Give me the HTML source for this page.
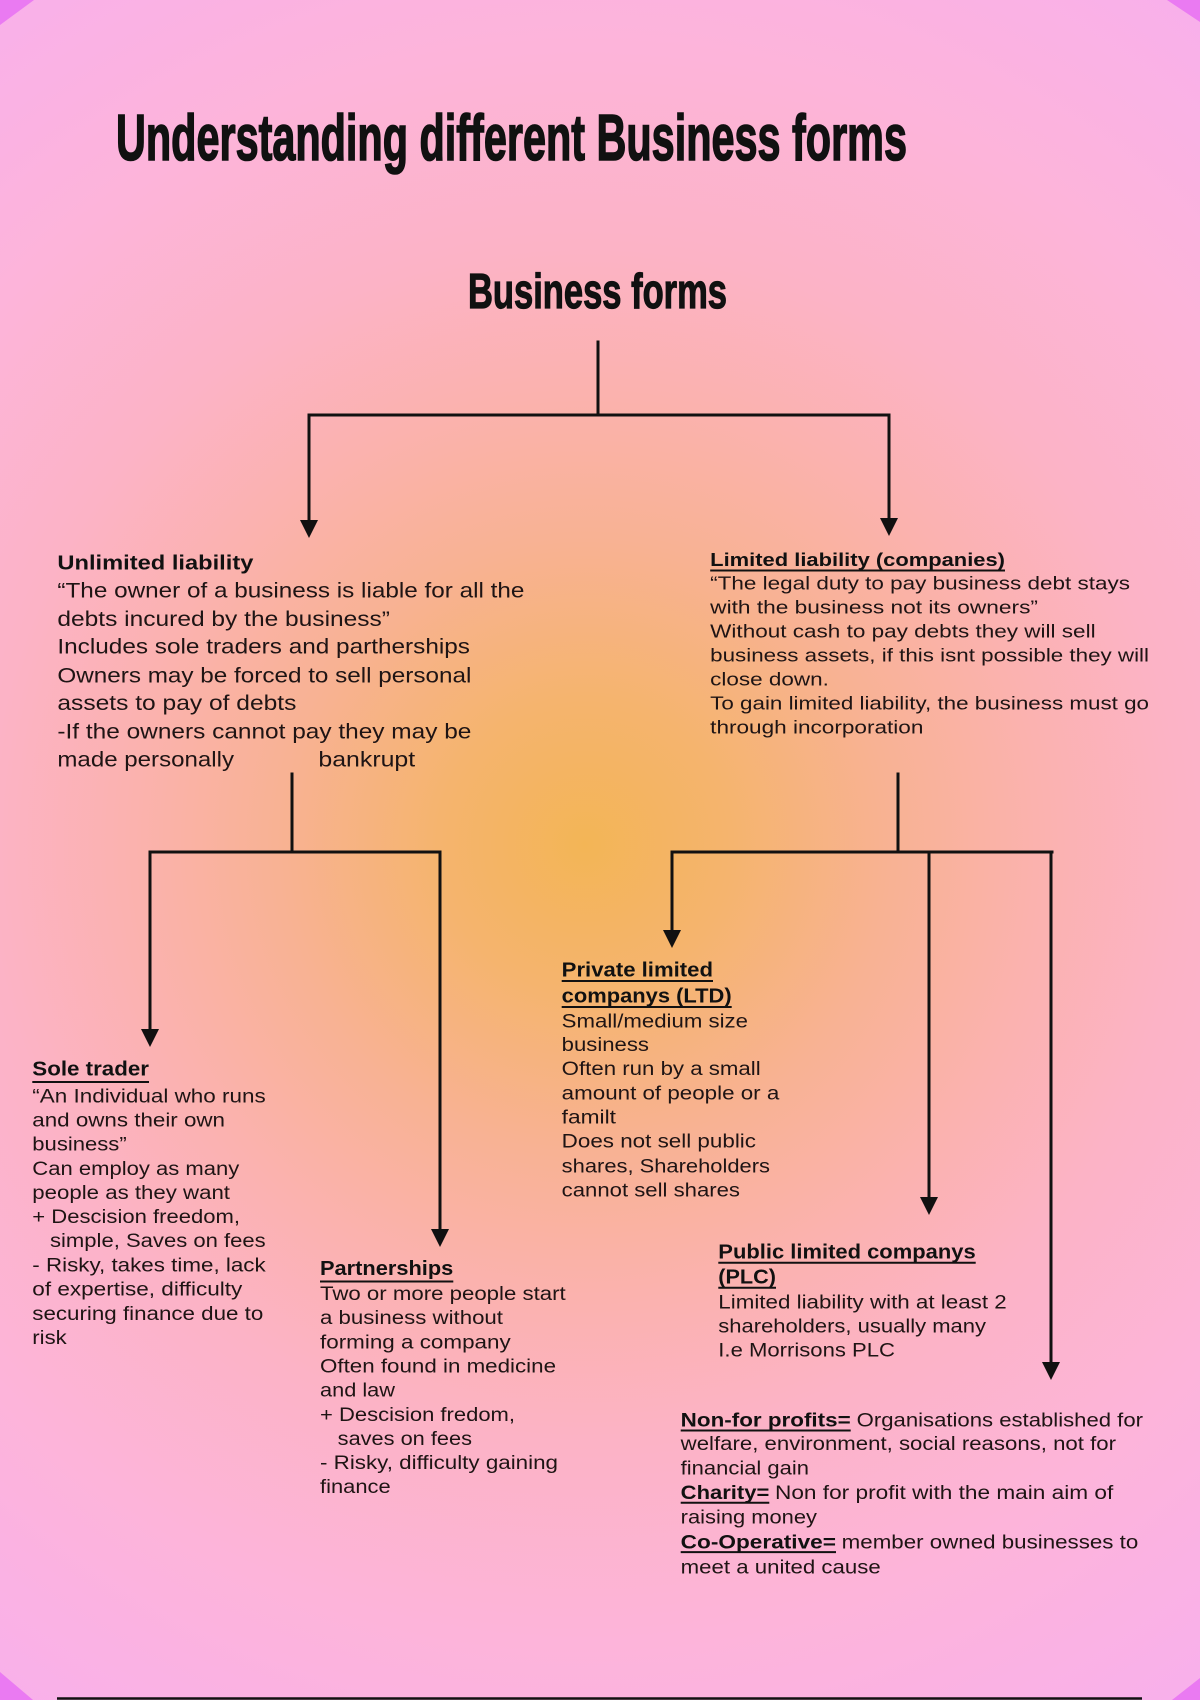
<!DOCTYPE html>
<html>
<head>
<meta charset="utf-8">
<style>
html,body{margin:0;padding:0;}
body{width:1200px;height:1700px;overflow:hidden;}
svg{display:block;}
text{font-family:"Liberation Sans",Arial,sans-serif;fill:#1e1414;}
.b{font-weight:bold;fill:#111;}
.t{font-size:19px;}
.u{font-size:21px;}
.l{font-size:18px;}
</style>
</head>
<body>
<svg width="1200" height="1700" viewBox="0 0 1200 1700" xmlns="http://www.w3.org/2000/svg">
<defs>
<radialGradient id="bg" cx="585" cy="845" r="1050" gradientUnits="userSpaceOnUse">
<stop offset="0" stop-color="#f3b556"/>
<stop offset="0.14" stop-color="#f5b46e"/>
<stop offset="0.29" stop-color="#f8b293"/>
<stop offset="0.43" stop-color="#fbb2ae"/>
<stop offset="0.57" stop-color="#fcb3c6"/>
<stop offset="0.76" stop-color="#fdb4da"/>
<stop offset="1" stop-color="#f8b0ec"/>
</radialGradient>
</defs>
<rect x="0" y="0" width="1200" height="1700" fill="url(#bg)"/>
<!-- purple corners -->
<polygon points="0,0 34,0 0,25" fill="#ea7af2"/>
<polygon points="1167,0 1200,0 1200,22" fill="#ea7af2"/>
<polygon points="0,1672 33,1700 0,1700" fill="#ea7af2"/>
<polygon points="1172,1700 1200,1678 1200,1700" fill="#ea7af2"/>

<!-- titles -->
<text class="b" x="116" y="160" font-size="65" textLength="791" lengthAdjust="spacingAndGlyphs" stroke="#111" stroke-width="1.6">Understanding different Business forms</text>
<text class="b" x="468" y="308" font-size="49" textLength="259" lengthAdjust="spacingAndGlyphs" stroke="#111" stroke-width="1.2">Business forms</text>

<!-- connectors -->
<g stroke="#111" stroke-width="3" fill="none" stroke-linecap="square">
<path d="M598,342 V415"/>
<path d="M309,415 H889"/>
<path d="M309,415 V522"/>
<path d="M889,415 V520"/>
<path d="M292,774 V852"/>
<path d="M150,852 H440"/>
<path d="M150,852 V1031"/>
<path d="M440,852 V1231"/>
<path d="M898,774 V852"/>
<path d="M672,852 H1052"/>
<path d="M672,852 V932"/>
<path d="M929,852 V1199"/>
<path d="M1051,852 V1364"/>
</g>
<g fill="#111">
<polygon points="300,520 318,520 309,538"/>
<polygon points="880,518 898,518 889,536"/>
<polygon points="141,1029 159,1029 150,1047"/>
<polygon points="431,1229 449,1229 440,1247"/>
<polygon points="663,930 681,930 672,948"/>
<polygon points="920,1197 938,1197 929,1215"/>
<polygon points="1042,1362 1060,1362 1051,1380"/>
</g>

<!-- Unlimited liability -->
<g class="u">
<text class="b" x="57.4" y="569.3" textLength="196" lengthAdjust="spacingAndGlyphs" font-size="20">Unlimited liability</text>
<text x="57.4" y="597.3" textLength="467" lengthAdjust="spacingAndGlyphs">“The owner of a business is liable for all the</text>
<text x="57.4" y="626" textLength="332.6" lengthAdjust="spacingAndGlyphs">debts incured by the business”</text>
<text x="57.4" y="653.3" textLength="412.6" lengthAdjust="spacingAndGlyphs">Includes sole traders and partherships</text>
<text x="57.4" y="682.3" textLength="414" lengthAdjust="spacingAndGlyphs">Owners may be forced to sell personal</text>
<text x="57.4" y="710" textLength="239" lengthAdjust="spacingAndGlyphs">assets to pay of debts</text>
<text x="57.4" y="738.3" textLength="414" lengthAdjust="spacingAndGlyphs">-If the owners cannot pay they may be</text>
<text x="57.4" y="766.7" textLength="176.6" lengthAdjust="spacingAndGlyphs">made personally</text>
<text x="318.4" y="766.7" textLength="96.8" lengthAdjust="spacingAndGlyphs">bankrupt</text>
</g>

<!-- Limited liability -->
<g class="l">
<text class="b" x="710.2" y="566" textLength="294.8" lengthAdjust="spacingAndGlyphs">Limited liability (companies)</text>
<text x="710.2" y="589.3" textLength="419.8" lengthAdjust="spacingAndGlyphs">“The legal duty to pay business debt stays</text>
<text x="710.2" y="613.3" textLength="327.8" lengthAdjust="spacingAndGlyphs">with the business not its owners”</text>
<text x="710.2" y="637.3" textLength="385.4" lengthAdjust="spacingAndGlyphs">Without cash to pay debts they will sell</text>
<text x="710.2" y="661.7" textLength="438.8" lengthAdjust="spacingAndGlyphs">business assets, if this isnt possible they will</text>
<text x="710.2" y="685.7" textLength="118.7" lengthAdjust="spacingAndGlyphs">close down.</text>
<text x="710.2" y="709.3" textLength="438.8" lengthAdjust="spacingAndGlyphs">To gain limited liability, the business must go</text>
<text x="710.2" y="733.3" textLength="213.2" lengthAdjust="spacingAndGlyphs">through incorporation</text>
</g>

<!-- Sole trader -->
<g class="t">
<text class="b" x="32.3" y="1075.7" textLength="116.7" lengthAdjust="spacingAndGlyphs" font-size="20">Sole trader</text>
<text x="32.3" y="1102.7" textLength="233.4" lengthAdjust="spacingAndGlyphs">“An Individual who runs</text>
<text x="32.3" y="1126.7" textLength="192.7" lengthAdjust="spacingAndGlyphs">and owns their own</text>
<text x="32.3" y="1150.7" textLength="94.4" lengthAdjust="spacingAndGlyphs">business”</text>
<text x="32.3" y="1175" textLength="207" lengthAdjust="spacingAndGlyphs">Can employ as many</text>
<text x="32.3" y="1199" textLength="197.7" lengthAdjust="spacingAndGlyphs">people as they want</text>
<text x="32.3" y="1223" textLength="207.7" lengthAdjust="spacingAndGlyphs">+ Descision freedom,</text>
<text x="50" y="1247" textLength="215.7" lengthAdjust="spacingAndGlyphs">simple, Saves on fees</text>
<text x="32.3" y="1271.7" textLength="233.4" lengthAdjust="spacingAndGlyphs">- Risky, takes time, lack</text>
<text x="32.3" y="1295.7" textLength="210" lengthAdjust="spacingAndGlyphs">of expertise, difficulty</text>
<text x="32.3" y="1320" textLength="231" lengthAdjust="spacingAndGlyphs">securing finance due to</text>
<text x="32.3" y="1344" textLength="34.4" lengthAdjust="spacingAndGlyphs">risk</text>
</g>

<!-- Partnerships -->
<g class="t">
<text class="b" x="320" y="1275" textLength="133.3" lengthAdjust="spacingAndGlyphs" font-size="20">Partnerships</text>
<text x="320" y="1300" textLength="245.7" lengthAdjust="spacingAndGlyphs">Two or more people start</text>
<text x="320" y="1324" textLength="183" lengthAdjust="spacingAndGlyphs">a business without</text>
<text x="320" y="1348.3" textLength="190.7" lengthAdjust="spacingAndGlyphs">forming a company</text>
<text x="320" y="1372.3" textLength="236" lengthAdjust="spacingAndGlyphs">Often found in medicine</text>
<text x="320" y="1396.7" textLength="75" lengthAdjust="spacingAndGlyphs">and law</text>
<text x="320" y="1421" textLength="195" lengthAdjust="spacingAndGlyphs">+ Descision fredom,</text>
<text x="337.7" y="1445" textLength="134.3" lengthAdjust="spacingAndGlyphs">saves on fees</text>
<text x="320" y="1469" textLength="238" lengthAdjust="spacingAndGlyphs">- Risky, difficulty gaining</text>
<text x="320" y="1493" textLength="70.7" lengthAdjust="spacingAndGlyphs">finance</text>
</g>

<!-- Private limited -->
<g class="t">
<text class="b" x="561.7" y="976.7" textLength="151.3" lengthAdjust="spacingAndGlyphs" font-size="20">Private limited</text>
<text class="b" x="561.7" y="1002.7" textLength="170" lengthAdjust="spacingAndGlyphs" font-size="20">companys (LTD)</text>
<text x="561.7" y="1027.3" textLength="186.3" lengthAdjust="spacingAndGlyphs">Small/medium size</text>
<text x="561.7" y="1051" textLength="87.3" lengthAdjust="spacingAndGlyphs">business</text>
<text x="561.7" y="1075" textLength="199" lengthAdjust="spacingAndGlyphs">Often run by a small</text>
<text x="561.7" y="1099.3" textLength="217.6" lengthAdjust="spacingAndGlyphs">amount of people or a</text>
<text x="561.7" y="1123.3" textLength="54.3" lengthAdjust="spacingAndGlyphs">familt</text>
<text x="561.7" y="1147.7" textLength="194.3" lengthAdjust="spacingAndGlyphs">Does not sell public</text>
<text x="561.7" y="1172.3" textLength="208.3" lengthAdjust="spacingAndGlyphs">shares, Shareholders</text>
<text x="561.7" y="1196.7" textLength="178.3" lengthAdjust="spacingAndGlyphs">cannot sell shares</text>
</g>

<!-- Public limited -->
<g class="t">
<text class="b" x="718.3" y="1258.3" textLength="257.4" lengthAdjust="spacingAndGlyphs" font-size="20">Public limited companys</text>
<text class="b" x="718.3" y="1283.3" textLength="57.7" lengthAdjust="spacingAndGlyphs" font-size="20">(PLC)</text>
<text x="718.3" y="1308.3" textLength="288.4" lengthAdjust="spacingAndGlyphs">Limited liability with at least 2</text>
<text x="718.3" y="1332.3" textLength="267.7" lengthAdjust="spacingAndGlyphs">shareholders, usually many</text>
<text x="718.3" y="1356.7" textLength="176.7" lengthAdjust="spacingAndGlyphs">I.e Morrisons PLC</text>
</g>

<!-- Non-for profits -->
<g class="t">
<text class="b" x="680.7" y="1426.7" textLength="170" lengthAdjust="spacingAndGlyphs">Non-for profits=</text>
<text x="856.7" y="1426.7" textLength="286.3" lengthAdjust="spacingAndGlyphs">Organisations established for</text>
<text x="680.7" y="1450" textLength="435.3" lengthAdjust="spacingAndGlyphs">welfare, environment, social reasons, not for</text>
<text x="680.7" y="1474.3" textLength="128.3" lengthAdjust="spacingAndGlyphs">financial gain</text>
<text class="b" x="680.7" y="1499" textLength="88.6" lengthAdjust="spacingAndGlyphs">Charity=</text>
<text x="775" y="1499" textLength="338.3" lengthAdjust="spacingAndGlyphs">Non for profit with the main aim of</text>
<text x="680.7" y="1523.3" textLength="136.3" lengthAdjust="spacingAndGlyphs">raising money</text>
<text class="b" x="680.7" y="1548.3" textLength="155.3" lengthAdjust="spacingAndGlyphs">Co-Operative=</text>
<text x="841.7" y="1548.3" textLength="296.6" lengthAdjust="spacingAndGlyphs">member owned businesses to</text>
<text x="680.7" y="1573.3" textLength="200" lengthAdjust="spacingAndGlyphs">meet a united cause</text>
</g>

<!-- underlines -->
<g stroke="#111" stroke-width="2">
<line x1="710.2" y1="570.5" x2="1005" y2="570.5"/>
<line x1="32.3" y1="1082" x2="149" y2="1082"/>
<line x1="320" y1="1281.5" x2="453.3" y2="1281.5"/>
<line x1="561.7" y1="981" x2="713" y2="981"/>
<line x1="561.7" y1="1007" x2="731.7" y2="1007"/>
<line x1="718.3" y1="1262.7" x2="975.7" y2="1262.7"/>
<line x1="718.3" y1="1287.7" x2="776" y2="1287.7"/>
<line x1="680.7" y1="1430.5" x2="850.7" y2="1430.5"/>
<line x1="680.7" y1="1502.8" x2="769.3" y2="1502.8"/>
<line x1="680.7" y1="1552.1" x2="836" y2="1552.1"/>
</g>

<!-- bottom rule -->
<line x1="57" y1="1698.5" x2="1142" y2="1698.5" stroke="#111" stroke-width="2.5"/>
</svg>
</body>
</html>
